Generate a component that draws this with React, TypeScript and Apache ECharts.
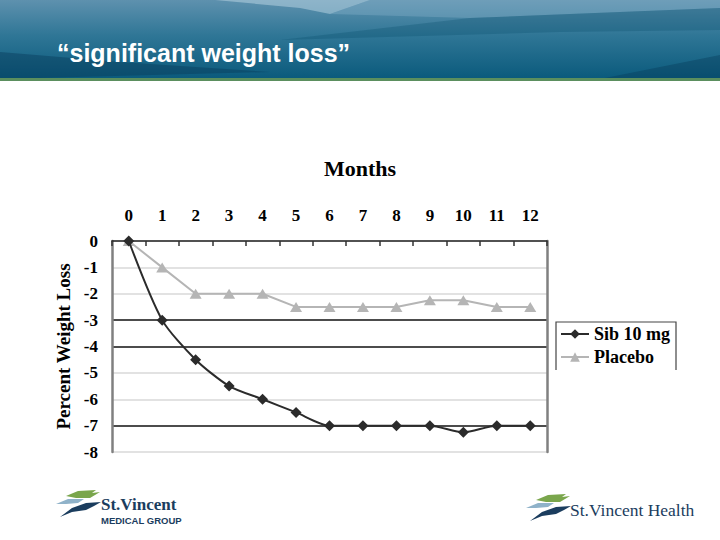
import React, { useEffect, useRef } from "react";
import * as echarts from "echarts";

const months = ["0", "1", "2", "3", "4", "5", "6", "7", "8", "9", "10", "11", "12"];
const sib10mg = [0, -3, -4.5, -5.5, -6, -6.5, -7, -7, -7, -7, -7.25, -7, -7];
const placebo = [0, -1, -2, -2, -2, -2.5, -2.5, -2.5, -2.5, -2.25, -2.25, -2.5, -2.5];
const seriesNames = ["Sib 10 mg", "Placebo"];
const title = "\u201csignificant weight loss\u201d";

const SERIF = "'Liberation Serif', 'Times New Roman', serif";
const SANS = "'Liberation Sans', Arial, sans-serif";
const NAVY = "#1b3d5e";
const GREEN = "#7aa64c";
const LIGHTBLUE = "#8fb2c9";

function birds(ox: number, oy: number, s: number) {
  const p = (pts: number[][]) => pts.map(([x, y]) => [ox + x * s, oy + y * s]);
  return [
    { type: "polygon", shape: { points: p([[10, 6], [22, 1], [40, 0], [36, 3], [44, 2], [34, 8], [20, 8]]) }, style: { fill: GREEN } },
    { type: "polygon", shape: { points: p([[0, 14], [12, 9], [28, 9], [22, 13], [10, 14]]) }, style: { fill: LIGHTBLUE } },
    { type: "polygon", shape: { points: p([[4, 27], [16, 18], [30, 13], [45, 12], [38, 16], [30, 20], [16, 22]]) }, style: { fill: NAVY } },
  ];
}

export default function App() {
  const ref = useRef<HTMLDivElement>(null);
  useEffect(() => {
    if (!ref.current) return;
    const chart = echarts.init(ref.current, null, { renderer: "svg" });
    const gray = "#d9d9d9";
    const black = "#111111";
    chart.setOption({
      animation: false,
      backgroundColor: "#ffffff",
      grid: { left: 112, top: 241, right: 173, bottom: 88, containLabel: false },
      legend: {
        data: seriesNames,
        orient: "vertical",
        left: 560,
        top: 325,
        itemWidth: 28,
        itemHeight: 12,
        itemGap: 5,
        padding: 0,
        textStyle: { fontFamily: SERIF, fontWeight: "bold", fontSize: 18, color: "#000" },
      },
      xAxis: {
        type: "category",
        data: months,
        position: "top",
        boundaryGap: true,
        name: "Months",
        nameLocation: "middle",
        nameGap: 62,
        nameTextStyle: { fontFamily: SERIF, fontWeight: "bold", fontSize: 22, color: "#000", padding: [0, 0, 0, 61] },
        axisLine: { show: true, lineStyle: { color: "#222", width: 1.5 } },
        axisTick: { show: true, inside: true, length: 5, lineStyle: { color: "#333", width: 1.5 } },
        axisLabel: { fontFamily: SERIF, fontWeight: "bold", fontSize: 17, color: "#000", margin: 17 },
        splitLine: { show: false },
      },
      yAxis: [
        {
          type: "value",
          min: -8,
          max: 0,
          interval: 1,
          position: "left",
          name: "Percent Weight Loss",
          nameLocation: "middle",
          nameGap: 36,
          nameTextStyle: { fontFamily: SERIF, fontWeight: "bold", fontSize: 19, color: "#000" },
          axisLine: { show: true, lineStyle: { color: "#808080", width: 2.5 } },
          axisTick: { show: false },
          axisLabel: { fontFamily: SERIF, fontWeight: "bold", fontSize: 17, color: "#000", margin: 14 },
          splitLine: {
            show: true,
            lineStyle: { color: [gray, black, gray, gray, black, black, gray, gray, gray], width: 1.6 },
          },
        },
        {
          type: "value",
          min: -8,
          max: 0,
          interval: 1,
          position: "right",
          axisLine: { show: true, lineStyle: { color: "#808080", width: 2.5 } },
          axisTick: { show: false },
          axisLabel: { show: false },
          splitLine: { show: false },
        },
      ],
      series: [
        {
          name: seriesNames[0],
          type: "line",
          yAxisIndex: 0,
          data: sib10mg,
          smooth: 0.25,
          symbol: "diamond",
          symbolSize: 11,
          itemStyle: { color: "#2b2b2b" },
          lineStyle: { color: "#2b2b2b", width: 2 },
          z: 3,
        },
        {
          name: seriesNames[1],
          type: "line",
          yAxisIndex: 0,
          data: placebo,
          symbol: "triangle",
          symbolSize: [12, 10],
          itemStyle: { color: "#b5b5b5" },
          lineStyle: { color: "#b5b5b5", width: 2 },
          z: 2,
        },
      ],
      graphic: [
        {
          type: "rect",
          shape: { x: 0, y: 0, width: 720, height: 79 },
          style: {
            fill: new echarts.graphic.LinearGradient(0, 0, 0, 1, [
              { offset: 0, color: "#5e91ae" },
              { offset: 0.45, color: "#2f7696" },
              { offset: 1, color: "#0a5a7c" },
            ]),
          },
          silent: true,
        },
        {
          type: "polygon",
          shape: { points: [[215, 0], [370, 0], [330, 14], [300, 8]] },
          style: { fill: "rgba(190,215,230,0.5)" },
          silent: true,
        },
        {
          type: "polygon",
          shape: { points: [[330, 14], [370, 0], [720, 0], [720, 8], [470, 18]] },
          style: { fill: "rgba(150,190,212,0.3)" },
          silent: true,
        },
        {
          type: "polygon",
          shape: { points: [[280, 40], [470, 18], [720, 8], [720, 30], [560, 32]] },
          style: { fill: "rgba(10,80,110,0.3)" },
          silent: true,
        },
        {
          type: "polygon",
          shape: { points: [[0, 52], [120, 62], [270, 72], [0, 79]] },
          style: { fill: "rgba(8,60,90,0.45)" },
          silent: true,
        },
        {
          type: "polygon",
          shape: { points: [[600, 79], [720, 55], [720, 79]] },
          style: { fill: "rgba(8,60,90,0.4)" },
          silent: true,
        },
        {
          type: "rect",
          shape: { x: 0, y: 78, width: 720, height: 3 },
          style: { fill: "#5b8f5e" },
          silent: true,
        },
        {
          type: "text",
          left: 57,
          top: 40,
          style: { text: title, fill: "#ffffff", font: `bold 25px ${SANS}` },
          silent: true,
        },
        {
          type: "polyline",
          shape: { points: [[556, 370], [556, 322], [676, 322], [676, 370]] },
          style: { stroke: "#444", lineWidth: 1.2, fill: null },
          silent: true,
        },
        ...birds(56, 490, 1),
        {
          type: "text",
          left: 101,
          top: 496,
          style: { text: "St.Vincent", fill: NAVY, font: `bold 17px ${SERIF}` },
          silent: true,
        },
        {
          type: "text",
          left: 101,
          top: 515,
          style: { text: "MEDICAL GROUP", fill: NAVY, font: `bold 9.5px ${SANS}` },
          silent: true,
        },
        ...birds(526, 494, 1),
        {
          type: "text",
          left: 570,
          top: 501,
          style: { text: "St.Vincent Health", fill: NAVY, font: `17.5px ${SERIF}` },
          silent: true,
        },
      ],
    });
    return () => chart.dispose();
  }, []);
  return <div ref={ref} style={{ position: "fixed", left: 0, top: 0, width: 720, height: 540 }} />;
}
